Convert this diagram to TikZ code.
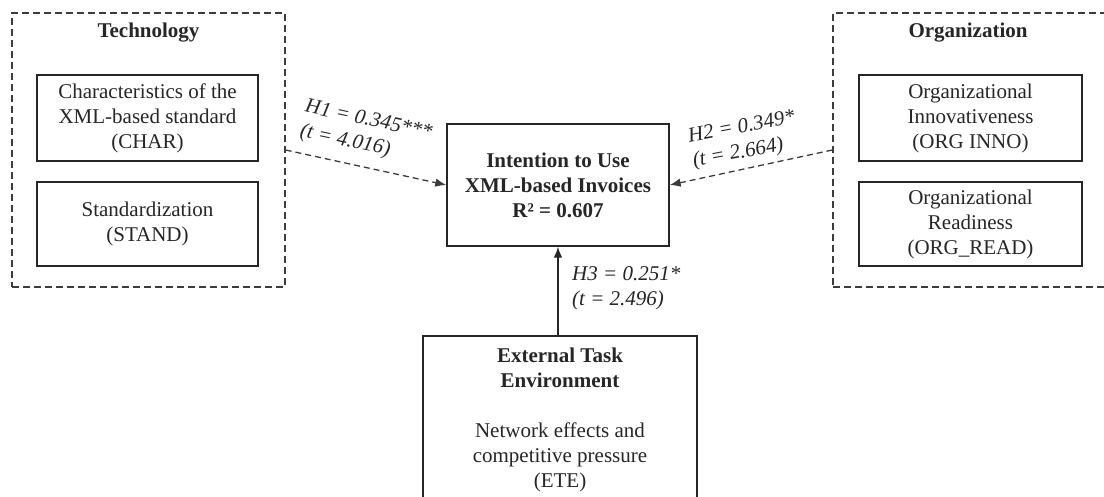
\documentclass[tikz,border=0pt]{standalone}
\usepackage{fontspec}
\setmainfont{Liberation Serif}
\usetikzlibrary{arrows.meta}
\definecolor{ink}{HTML}{262626}
\definecolor{dashc}{HTML}{3C3C3C}
\begin{document}
\begin{tikzpicture}[x=1pt,y=-1pt,
  txt/.style={font=\fontsize{21}{25}\selectfont, text=ink, align=center, inner sep=0pt},
  ttl/.style={font=\fontsize{21}{25}\selectfont\bfseries, text=ink, inner sep=0pt},
  box/.style={draw=ink, line width=1.4pt},
  grp/.style={draw=dashc, line width=1.3pt, dash pattern=on 7pt off 4pt},
  lab/.style={font=\fontsize{21}{25}\selectfont\itshape, text=ink, align=left, inner sep=0pt},
  hyp/.style={draw=dashc, line width=1.3pt, dash pattern=on 6pt off 4pt, -{Latex[length=11pt,width=8.5pt]}},
  sol/.style={draw=ink, line width=1.3pt, -{Latex[length=11pt,width=8.5pt]}}
  ]
\useasboundingbox[fill=white] (0,0) rectangle (1104,497);

% group boxes
\node[grp, minimum width=273pt, minimum height=274pt, inner sep=0pt] (tech) at (148.5,150) {};
\node[ttl] (techt) at (148.5,33) {Technology};
\node[grp, minimum width=275pt, minimum height=274pt, inner sep=0pt] (org) at (970.5,150) {};
\node[ttl] (orgt) at (968,33) {Organization};

% construct boxes
\node[box, txt, minimum width=221pt, minimum height=86pt] (char) at (147.5,118)
  {Characteristics of the\\XML-based standard\\(CHAR)};
\node[box, txt, minimum width=221pt, minimum height=84pt] (stand) at (147.5,224)
  {Standardization\\(STAND)};
\node[box, txt, minimum width=223pt, minimum height=86pt] (inno) at (970.5,118)
  {Organizational\\Innovativeness\\(ORG INNO)};
\node[box, txt, minimum width=223pt, minimum height=84pt] (read) at (970.5,224)
  {Organizational\\Readiness\\(ORG\_READ)};

\node[box, txt, minimum width=222pt, minimum height=122pt] (int) at (558,185)
  {\textbf{Intention to Use}\\\textbf{XML-based Invoices}\\\textbf{R² = 0.607}};

\node[box, minimum width=274pt, minimum height=174pt, inner sep=0pt] (ete) at (560,423) {};
\node[txt, anchor=north] (etet) at (560,348)
  {\textbf{External Task}\\\textbf{Environment}\\[25pt]Network effects and\\competitive pressure\\(ETE)};

% hypothesis labels
\node[lab, rotate=-12] (h1) at (366,133) {H1 = 0.345***\\(t = 4.016)};
\node[lab, rotate=10.5] (h2) at (744,140) {H2 = 0.349*\\(t = 2.664)};
\node[lab, anchor=west] (h3) at (572,288) {H3 = 0.251*\\(t = 2.496)};

% connectors
\draw[hyp] (tech.east) -- (int.west);
\draw[hyp] (org.west) -- (int.east);
\draw[sol] (int.south |- ete.north) -- (int.south);
\end{tikzpicture}
\end{document}
